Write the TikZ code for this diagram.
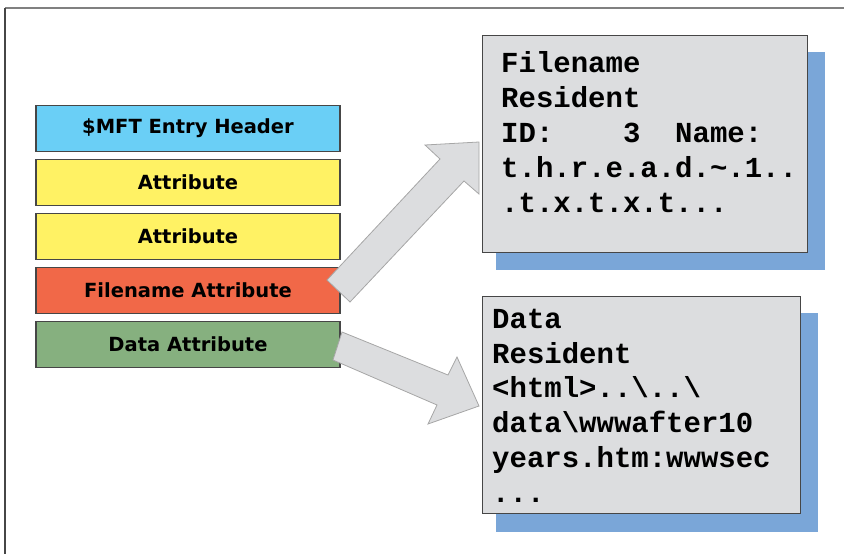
\documentclass[tikz,border=0pt]{standalone}
\usepackage{fontspec}
\setmainfont{DejaVu Sans}
\newfontfamily\codefont{Liberation Mono}
\usetikzlibrary{positioning}
\definecolor{HdrColor}  {RGB}{106,207,246}
\definecolor{AttrColor} {RGB}{255,242,100}
\definecolor{FnColor}   {RGB}{241,104,72}
\definecolor{DataColor} {RGB}{134,176,127}
\definecolor{PanelColor}{RGB}{220,221,223}
\definecolor{ShadeColor}{RGB}{122,166,216}
\definecolor{EdgeColor} {RGB}{70,70,70}

\begin{document}
\begin{tikzpicture}[x=1pt,y=-1pt,
  every node/.style={inner sep=0pt},
  attr/.style={draw=EdgeColor,line width=1.2pt,minimum width=304pt,minimum height=46pt,
               font=\bfseries\fontsize{19.5}{23}\selectfont},
  panel/.style={draw=EdgeColor,line width=1.2pt,fill=PanelColor,anchor=north west},
  shade/.style={fill=ShadeColor,anchor=north west},
  bigarrow/.style={fill=PanelColor,draw=gray!70,line width=0.8pt,line join=miter},
  code/.style={anchor=north west,align=left,font=\codefont\bfseries\fontsize{29}{35}\selectfont}]
\useasboundingbox (0,0) rectangle (844,554);
% outer frame
\draw[gray,line width=2pt] (5,8) -- (844,8);
\draw[EdgeColor,line width=2pt] (5,8) -- (5,554);
% $MFT record
\node[attr,fill=HdrColor] (hdr) at (188,128.5) {\$MFT Entry Header};
\node[attr,fill=AttrColor,below=6.8pt of hdr] (at1) {Attribute};
\node[attr,fill=AttrColor,below=6.8pt of at1] (at2) {Attribute};
\node[attr,fill=FnColor,below=6.8pt of at2] (fn) {Filename Attribute};
\node[attr,fill=DataColor,below=6.8pt of fn] (data) {Data Attribute};
% panels
\node[shade,minimum width=329pt,minimum height=218pt] (fnsh) at (496,52) {};
\node[panel,minimum width=325pt,minimum height=217pt] (fnbox) at (482,35) {};
\node[shade,minimum width=322pt,minimum height=219pt] (datash) at (496,313) {};
\node[panel,minimum width=318pt,minimum height=217pt] (databox) at (482,296) {};
\node[code] (fntxt) at (501,48)
  {\rule{0pt}{24pt}Filename\\Resident\\ID:\ \ \ \ 3\ \ Name:\\t.h.r.e.a.d.\textasciitilde.1..\\.t.x.t.x.t...};
\node[code,font=\codefont\bfseries\fontsize{29}{34.8}\selectfont] (datatxt) at (492,304)
  {\rule{0pt}{24pt}Data\\Resident\\<html>..\textbackslash..\textbackslash\\data\textbackslash wwwafter10\\years.htm:wwwsec\\...};
% block arrows
\draw[bigarrow] (327,280) -- (440,159) -- (425,145) -- (479,142) -- (479,194) -- (464,181) -- (350,302) -- cycle;
\draw[bigarrow] (342,332) -- (448,375) -- (457,357) -- (479,406) -- (428,424) -- (437,405) -- (333,360) -- cycle;
\end{tikzpicture}
\end{document}
